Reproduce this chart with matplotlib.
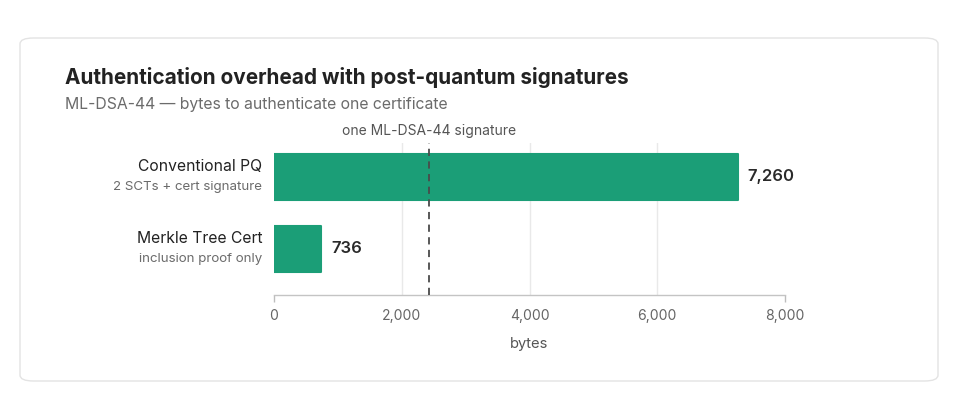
import matplotlib
matplotlib.use("Agg")
import matplotlib.pyplot as plt
from matplotlib.patches import FancyBboxPatch
from matplotlib.ticker import FuncFormatter

plt.rcParams['font.family'] = ['Inter', 'DejaVu Sans']

categories = ["Conventional PQ", "Merkle Tree Cert"]
subtitles = ["2 SCTs + cert signature", "inclusion proof only"]
values = [7260, 736]
signature_size = 2420
xticks = [0, 2000, 4000, 6000, 8000]

title = "Authentication overhead with post-quantum signatures"
subtitle = "ML-DSA-44 \u2014 bytes to authenticate one certificate"
ref_label = "one ML-DSA-44 signature"
xlabel = "bytes"

GREEN = "#1b9e77"
W, H = 960, 420
fig = plt.figure(figsize=(W / 100, H / 100), dpi=100)
fig.patch.set_facecolor("white")

# card
card = FancyBboxPatch((20 / W, 1 - 381 / H), (938 - 20) / W, (381 - 38) / H,
                      boxstyle="round,pad=0,rounding_size=0.014",
                      transform=fig.transFigure, facecolor="white",
                      edgecolor="#e3e3e3", linewidth=1.0, zorder=-10)
fig.patches.append(card)

fig.text(65 / W, 1 - 78 / H, title, fontsize=14.95, fontweight="bold",
         color="#222222", va="center", ha="left")
fig.text(65 / W, 1 - 105 / H, subtitle, fontsize=11.35, color="#6b6b6b",
         va="center", ha="left")

left, right = 274 / W, 785 / W
top, bottom = 1 - 143 / H, 1 - 295 / H
ax = fig.add_axes([left, bottom, right - left, top - bottom], zorder=5)
ax.set_facecolor("none")

ypos = list(range(len(categories)))
ax.barh(ypos, values, height=0.64, color=GREEN, edgecolor=GREEN,
        linewidth=1.5, joinstyle="round", zorder=3)

ax.set_xlim(xticks[0], xticks[-1])
ax.set_ylim(1.639, -0.472)

ax.set_xticks(xticks)
ax.xaxis.set_major_formatter(FuncFormatter(lambda v, p: f"{int(v):,}"))
ax.tick_params(axis="x", length=5, color="#bdbdbd", width=1,
               labelsize=10.1, labelcolor="#666666", pad=5)
ticks = ax.xaxis.get_major_ticks()
for t in ticks[1:-1]:
    t.tick1line.set_visible(False)
ax.set_yticks([])
ax.grid(axis="x", color="#e9e9e9", linewidth=1, zorder=0)
for t in (ticks[0], ticks[-1]):
    t.gridline.set_visible(False)
for s in ["top", "right", "left"]:
    ax.spines[s].set_visible(False)
ax.spines["bottom"].set_color("#c4c4c4")
ax.spines["bottom"].set_linewidth(1)
ax.set_axisbelow(True)

ax.set_xlabel(xlabel, fontsize=10.6, color="#555555", labelpad=10)

# reference line
ax.axvline(signature_size, color="#4a4a4a", linewidth=1.3,
           linestyle=(0, (4, 3)), zorder=4)
ax.annotate(ref_label, xy=(signature_size, 1), xycoords=("data", "axes fraction"),
            xytext=(0, 8.6), textcoords="offset points", ha="center", va="center",
            fontsize=10.0, color="#555555")

# category labels
for i, (c, s) in enumerate(zip(categories, subtitles)):
    ax.annotate(c, xy=(0, i), xycoords=("axes fraction", "data"),
                xytext=(-8.6, 7.4), textcoords="offset points",
                ha="right", va="center", fontsize=11.3, color="#222222")
    ax.annotate(s, xy=(0, i), xycoords=("axes fraction", "data"),
                xytext=(-8.6, -7.4), textcoords="offset points",
                ha="right", va="center", fontsize=9.6, color="#6b6b6b")

for i, v in enumerate(values):
    ax.annotate(f"{v:,}", xy=(v, i), xytext=(7.2, 0), textcoords="offset points",
                ha="left", va="center", fontsize=12, fontweight="semibold",
                color="#2a2a2a")

fig.savefig("out.png", dpi=100, facecolor="white")
